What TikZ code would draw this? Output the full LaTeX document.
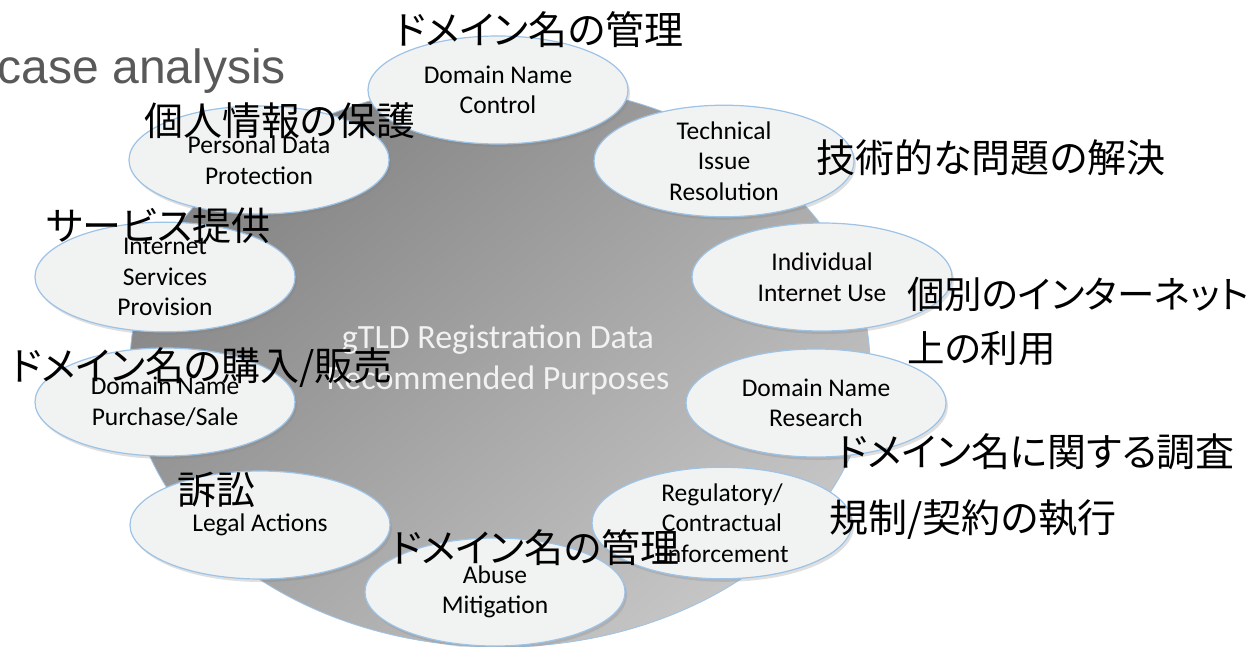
\documentclass[tikz,border=0pt]{standalone}
\usepackage{fontspec}
\setmainfont{Carlito}
\newfontfamily\jpfont[RawFeature=+palt]{Noto Sans CJK JP}
\newfontfamily\titlefont{Liberation Sans}
\usetikzlibrary{shapes.geometric,shadows}
\definecolor{edgeblue}{HTML}{9DC3E6}
\definecolor{ellfill}{HTML}{F1F2F2}
\definecolor{graydark}{HTML}{838383}
\definecolor{graylight}{HTML}{C6C6C6}
\definecolor{titlegray}{HTML}{595959}
\definecolor{centertext}{HTML}{F2F2F2}
\begin{document}
\begin{tikzpicture}[x=1pt,y=-1pt,
  purpose/.style={ellipse, draw=edgeblue, line width=1.2pt, fill=ellfill,
    minimum width=260pt, minimum height=108pt, inner sep=0pt, align=center,
    font=\fontsize{25.5}{30.5}\selectfont,
    drop shadow={opacity=0.25, shadow xshift=2pt, shadow yshift=-3pt}},
  jlabel/.style={font=\jpfont\fontsize{39}{54}\selectfont, inner sep=0pt, text=black}]
\useasboundingbox (0,0) rectangle (1256,646);
\fill[white] (0,0) rectangle (1256,646);

% title
\node[font=\titlefont\fontsize{48}{50}\selectfont, text=titlegray, anchor=base east, inner sep=0pt] (title) at (286,83) {case analysis};

% central disc
\node[ellipse, minimum width=740pt, minimum height=564pt, inner sep=0pt,
  top color=graydark, bottom color=graylight, shading angle=40,
  draw=edgeblue, line width=0.8pt] (hub) at (500,365) {};
\node[font=\fontsize{34}{41}\selectfont, text=centertext, align=center, inner sep=0pt] (hubtext) at (498,360)
  {gTLD Registration Data\\Recommended Purposes};

% purposes
\node[purpose] (dnc) at (498,90) {Domain Name\\Control};
\node[purpose] (tir) at (724,161) {Technical\\Issue\\Resolution};
\node[purpose] (iiu) at (822,277) {Individual\\Internet Use};
\node[purpose] (dnr) at (816,403) {Domain Name\\Research};
\node[purpose] (rce) at (722,523) {Regulatory/\\Contractual\\Enforcement};
\node[purpose] (am) at (495,592) {Abuse\\Mitigation};
\node[purpose] (la) at (260,525) {Legal Actions};
\node[purpose] (dnps) at (165,402) {Domain Name\\Purchase/Sale};
\node[purpose] (isp) at (165,277) {Internet\\Services\\Provision};
\node[purpose] (pdp) at (259,160) {Personal Data\\Protection};

% Japanese labels
\node[jlabel] (jdnc) at (539,30) {ドメイン名の管理};
\node[jlabel] (jpdp) at (280,121) {個人情報の保護};
\node[jlabel] (jtir) at (991,158) {技術的な問題の解決};
\node[jlabel] (jisp) at (158,226) {サービス提供};
\node[jlabel, anchor=west, align=left, font=\jpfont\fontsize{37.5}{54}\selectfont] (jiiu) at (907,321) {個別のインターネット\\上の利用};
\node[jlabel] (jdnps) at (202,368) {ドメイン名の購入/販売};
\node[jlabel] (jdnr) at (1036,452) {ドメイン名に関する調査};
\node[jlabel] (jrce) at (973,520) {規制/契約の執行};
\node[jlabel] (jla) at (216,490) {訴訟};
\node[jlabel] (jam) at (535,548) {ドメイン名の管理};
\end{tikzpicture}
\end{document}
